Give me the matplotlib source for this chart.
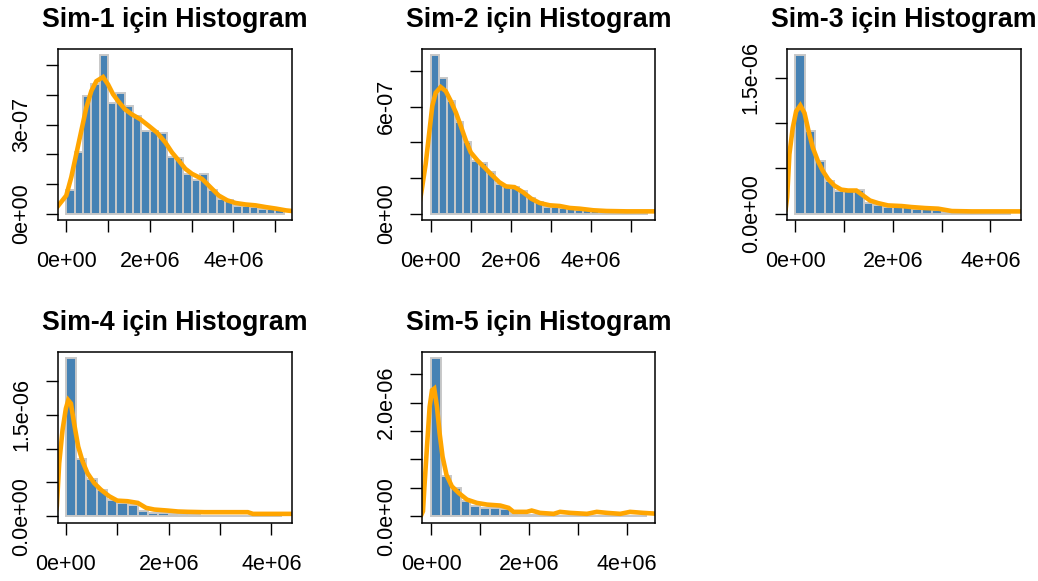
import matplotlib
matplotlib.use("Agg")
import matplotlib.pyplot as plt
import matplotlib.transforms as mtransforms
import numpy as np

plt.rcParams['font.family'] = ['Liberation Sans', 'DejaVu Sans']

# -----------------------------------------------
# Data (x in 1e6, density in 1e-7)
# -----------------------------------------------
titles = ["Sim-1 için Histogram", "Sim-2 için Histogram", "Sim-3 için Histogram",
          "Sim-4 için Histogram", "Sim-5 için Histogram"]

bin_width = 0.2  # 1e6

bars_sim1 = [0.78, 2.09, 3.96, 4.38, 5.33, 3.74, 4.07, 3.63, 3.29, 2.77, 2.77, 2.70, 1.92,
             1.88, 1.32, 1.12, 1.32, 0.80, 0.50, 0.45, 0.25, 0.25, 0.22, 0.17, 0.15, 0.11]
bars_sim2 = [8.89, 7.63, 6.33, 5.12, 4.00, 2.98, 2.83, 2.33, 1.67, 1.53, 1.50, 1.30, 0.89,
             0.65, 0.37, 0.37, 0.33, 0.24, 0.22, 0.19, 0.15, 0.12, 0.10, 0.08, 0.08, 0.05, 0.05]
bars_sim3 = [17.45, 9.16, 5.82, 3.64, 2.55, 2.55, 2.62, 1.16, 0.91, 0.73, 0.73, 0.73, 0.47,
             0.47, 0.36, 0.15, 0.10, 0.10, 0.08, 0.08, 0.07, 0.05]
bars_sim4 = [23.43, 8.53, 5.50, 3.80, 2.35, 1.96, 1.72, 0.80, 0.50, 0.50, 0.30, 0.35, 0.10,
             0.08, 0.06, 0.06, 0.05, 0.05, 0.04, 0.04, 0.03]
bars_sim5 = [27.92, 7.00, 4.96, 2.63, 1.75, 1.46, 1.46, 1.29, 0.30, 0.15, 0.15, 0.10, 0.10,
             0.08, 0.08, 0.06, 0.06, 0.05, 0.05, 0.05, 0.04, 0.04]

dens_x1 = [-0.22, 0.0, 0.12, 0.24, 0.36, 0.48, 0.60, 0.72, 0.88, 1.0, 1.12, 1.24, 1.40, 1.56,
           1.77, 1.97, 2.17, 2.37, 2.53, 2.69, 2.85, 3.01, 3.25, 3.45, 3.65, 3.85, 4.05, 4.29,
           4.53, 4.78, 5.02, 5.26, 5.40]
dens_y1 = [0.22, 0.61, 1.23, 2.01, 2.79, 3.57, 4.13, 4.46, 4.60, 4.35, 4.02, 3.79, 3.52, 3.35,
           3.18, 2.96, 2.73, 2.40, 2.06, 1.79, 1.51, 1.34, 1.17, 0.89, 0.61, 0.45, 0.36, 0.31,
           0.28, 0.22, 0.17, 0.11, 0.09]

dens_x2 = [-0.30, -0.226, -0.125, -0.04, 0.04, 0.125, 0.25, 0.376, 0.50, 0.63, 0.75, 0.88, 1.0,
           1.17, 1.34, 1.50, 1.71, 1.88, 2.09, 2.30, 2.51, 2.72, 2.97, 3.22, 3.47, 3.72, 4.06,
           4.39, 4.89, 5.65]
dens_y2 = [0.30, 1.30, 2.79, 4.47, 6.05, 6.79, 7.11, 6.88, 6.33, 5.67, 4.93, 4.09, 3.44, 2.98,
           2.60, 2.23, 1.77, 1.53, 1.49, 1.21, 0.84, 0.60, 0.47, 0.43, 0.32, 0.28, 0.19, 0.15,
           0.13, 0.13]

dens_x3 = [-0.20, -0.17, -0.124, -0.055, 0.014, 0.10, 0.186, 0.27, 0.357, 0.46, 0.56, 0.67,
           0.80, 0.94, 1.08, 1.25, 1.39, 1.53, 1.70, 1.90, 2.18, 2.38, 2.66, 2.93, 3.21, 3.62,
           4.17, 4.70]
dens_y3 = [0.5, 1.82, 6.55, 9.45, 11.27, 11.93, 11.09, 9.09, 7.27, 5.82, 4.73, 3.82, 3.09, 2.65,
           2.55, 2.55, 2.00, 1.45, 1.16, 0.91, 0.84, 0.73, 0.62, 0.55, 0.29, 0.25, 0.25, 0.25]

dens_x4 = [-0.20, -0.176, -0.13, -0.065, 0.0, 0.046, 0.098, 0.16, 0.24, 0.325, 0.42, 0.55, 0.68,
           0.845, 1.0, 1.2, 1.40, 1.56, 1.72, 1.98, 2.18, 2.37, 2.70, 3.02, 3.54, 3.64, 4.45]
dens_y4 = [0.5, 1.47, 7.84, 12.75, 15.93, 17.16, 16.67, 13.73, 10.29, 8.09, 6.37, 4.90, 3.92,
           2.94, 2.30, 2.21, 1.96, 1.23, 0.98, 0.83, 0.69, 0.64, 0.59, 0.59, 0.59, 0.34, 0.34]

dens_x5 = [-0.20, -0.17, -0.14, -0.088, -0.034, 0.014, 0.06, 0.116, 0.17, 0.23, 0.31, 0.42,
           0.56, 0.73, 0.93, 1.14, 1.41, 1.58, 1.68, 1.95, 2.05, 2.22, 2.50, 2.63, 2.84, 3.18,
           3.38, 3.59, 3.86, 4.06, 4.33, 4.65]
dens_y5 = [0.3, 0.88, 5.26, 12.27, 19.28, 22.2, 22.5, 19.28, 14.6, 10.5, 7.3, 5.26, 4.09, 2.92,
           2.34, 2.04, 1.87, 1.46, 0.76, 0.76, 0.99, 0.58, 0.41, 0.76, 0.58, 0.41, 0.76, 0.58,
           0.41, 0.76, 0.58, 0.41]

all_bars = [bars_sim1, bars_sim2, bars_sim3, bars_sim4, bars_sim5]
all_dx = [dens_x1, dens_x2, dens_x3, dens_x4, dens_x5]
all_dy = [dens_y1, dens_y2, dens_y3, dens_y4, dens_y5]

# axis settings per panel: x limits (1e6), x ticks, y ticks, labelled y ticks
xlims = [(-0.21, 5.39), (-0.217, 5.61), (-0.173, 4.63), (-0.163, 4.39), (-0.19, 4.58)]
xtick_max = [5, 5, 4, 4, 4]
yticks = [[0, 1e-7, 2e-7, 3e-7, 4e-7, 5e-7],
          [0, 2e-7, 4e-7, 6e-7, 8e-7],
          [0, 5e-7, 1e-6, 1.5e-6],
          [0, 5e-7, 1e-6, 1.5e-6, 2e-6],
          [0, 5e-7, 1e-6, 1.5e-6, 2e-6, 2.5e-6]]
ylabels = [["0e+00", "", "", "3e-07", "", ""],
           ["0e+00", "", "", "6e-07", ""],
           ["0.0e+00", "", "", "1.5e-06"],
           ["0.0e+00", "", "", "1.5e-06", ""],
           ["0.0e+00", "", "", "", "2.0e-06", ""]]
xlabels_all = {0: "0e+00", 2: "2e+06", 4: "4e+06"}

# panel boxes in pixels (left, top, right, bottom)
W, H = 1038, 581
boxes = [(57.5, 49, 291.5, 220), (422, 49, 655.5, 220), (787, 49, 1021, 220),
         (57.5, 351.5, 291.5, 522.5), (422, 351.5, 655.5, 522.5)]

fig = plt.figure(figsize=(W / 100, H / 100), dpi=100)

for i in range(5):
    l, t, r, b = boxes[i]
    ax = fig.add_axes([l / W, 1 - b / H, (r - l) / W, (b - t) / H])

    heights = np.array(all_bars[i]) * 1e-7
    edges = np.arange(len(heights)) * bin_width * 1e6
    ax.bar(edges, heights, width=bin_width * 1e6, align="edge",
           color="#4682B4", edgecolor="#C8C8C8", linewidth=1.4)

    ax.plot(np.array(all_dx[i]) * 1e6, np.array(all_dy[i]) * 1e-7,
            color="#FFA500", linewidth=3.3, solid_joinstyle="miter")

    m = max(heights)
    ax.set_ylim(-0.04 * m, 1.04 * m)
    ax.set_xlim(xlims[i][0] * 1e6, xlims[i][1] * 1e6)

    xt = list(range(0, xtick_max[i] + 1))
    ax.set_xticks([v * 1e6 for v in xt])
    ax.set_xticklabels([xlabels_all.get(v, "") for v in xt])
    ax.set_yticks(yticks[i])
    ax.set_yticklabels(ylabels[i])

    ax.tick_params(axis="both", direction="out", length=8.6, width=1.0,
                   labelsize=15.5, colors="black")
    ax.tick_params(axis="x", pad=14.0)
    ax.tick_params(axis="y", labelrotation=90, pad=9.5)
    for lab in ax.get_yticklabels():
        lab.set_verticalalignment("center")
    for sp in ax.spines.values():
        sp.set_linewidth(1.1)
        sp.set_color("black")

    trans = mtransforms.offset_copy(ax.transAxes, fig=fig, x=0, y=29, units="dots")
    ax.text(0.5, 1.0, titles[i], transform=trans, ha="center", va="center",
            fontsize=19.3, fontweight="bold")

fig.savefig("out.png", dpi=100)
